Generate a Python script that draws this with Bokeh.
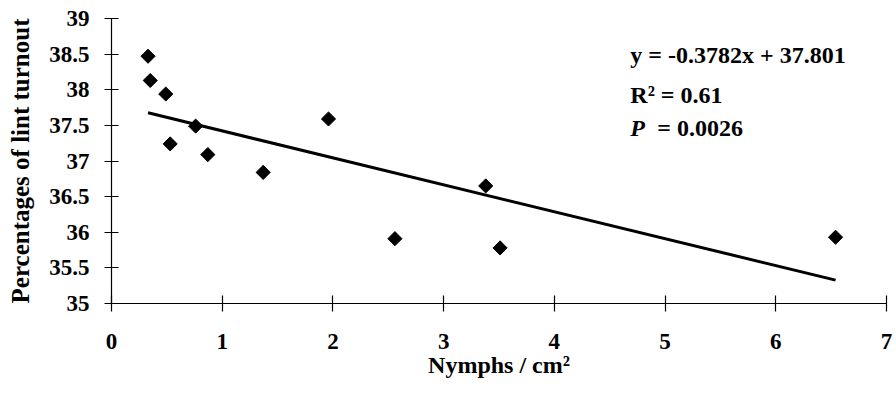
import numpy as np
from bokeh.plotting import figure
from bokeh.models import Range1d, FixedTicker, Label
from bokeh.embed import file_html
from bokeh.resources import INLINE

# ---- data ----
nymphs = [0.33, 0.35, 0.49, 0.53, 0.76, 0.87, 1.37, 1.96, 2.56, 3.38, 3.51, 6.54]
lint_turnout = [38.47, 38.13, 37.94, 37.24, 37.49, 37.09, 36.84, 37.59, 35.91, 36.65, 35.78, 35.93]
slope = -0.3782
intercept = 37.801
x_ticks = [0, 1, 2, 3, 4, 5, 6, 7]
y_ticks = [35, 35.5, 36, 36.5, 37, 37.5, 38, 38.5, 39]
y_tick_labels = ["35", "35.5", "36", "36.5", "37", "37.5", "38", "38.5", "39"]
stat_lines = ["y = -0.3782x + 37.801", "R\u00b2 = 0.61", "= 0.0026"]
x_title = "Nymphs / cm\u00b2"
y_title = "Percentages of lint turnout"

FONT = "Liberation Serif"

p = figure(width=896, height=408,
           x_range=Range1d(0, 7), y_range=Range1d(35, 39),
           output_backend="svg", toolbar_location=None,
           min_border_left=111, min_border_right=10,
           min_border_top=18, min_border_bottom=105)
p.outline_line_color = None
p.xgrid.visible = False
p.ygrid.visible = False
p.background_fill_color = "white"
p.border_fill_color = "white"

for ax in (p.xaxis[0], p.yaxis[0]):
    ax.axis_line_color = "black"
    ax.axis_line_width = 1.2
    ax.major_tick_line_color = "black"
    ax.major_tick_line_width = 1.2
    ax.minor_tick_line_color = None
    ax.major_label_text_font = FONT
    ax.major_label_text_font_style = "bold"
    ax.major_label_text_font_size = "23px"
    ax.major_label_text_color = "black"
    ax.axis_label_text_font = FONT
    ax.axis_label_text_font_style = "bold"
    ax.axis_label_text_color = "black"

xa = p.xaxis[0]
xa.ticker = FixedTicker(ticks=x_ticks)
xa.major_tick_in = 8
xa.major_tick_out = 8
xa.major_label_standoff = 22
xa.axis_label = x_title
xa.axis_label_text_font_size = "24px"
xa.axis_label_standoff = 0

ya = p.yaxis[0]
ya.ticker = FixedTicker(ticks=y_ticks)
ya.major_label_overrides = {t: l for t, l in zip(y_ticks, y_tick_labels)}
ya.major_tick_in = 7
ya.major_tick_out = 7
ya.major_label_standoff = 15
ya.axis_label = y_title
ya.axis_label_text_font_size = "25px"
ya.axis_label_standoff = 12

# regression line between min and max x
xs = np.array([min(nymphs), max(nymphs)])
p.line(xs, slope * xs + intercept, line_color="black", line_width=3)

# diamonds
p.scatter(nymphs, lint_turnout, marker="square", angle=np.pi / 4,
          size=10, fill_color="black", line_color="black")

# statistics text
def add_label(x, y, text, style="bold"):
    p.add_layout(Label(x=x, y=y, text=text, text_font=FONT,
                       text_font_style=style, text_font_size="24px",
                       text_color="black", text_baseline="alphabetic",
                       text_align="left"))

add_label(4.686, 38.486, stat_lines[0])
add_label(4.686, 37.923, stat_lines[1])
add_label(4.686, 37.458, "P", style="bold italic")
add_label(4.93, 37.458, stat_lines[2])

open("out.html", "w").write(file_html(p, INLINE))
